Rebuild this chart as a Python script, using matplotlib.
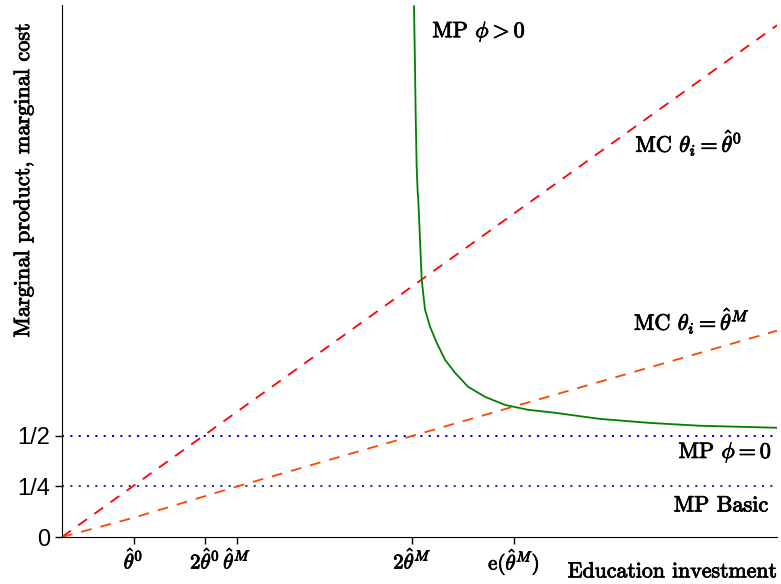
import matplotlib
matplotlib.use("Agg")
import matplotlib.pyplot as plt
import matplotlib.patheffects as pe
import numpy as np

plt.rcParams['mathtext.fontset'] = 'cm'
plt.rcParams['font.family'] = 'cmr10'
plt.rcParams['axes.formatter.use_mathtext'] = True

# axis reference points (in units of theta_hat^0)
x_ticks = [1.0, 2.0, 2.45, 4.9, 6.32]
x_ticklabels = [r'$\hat{\theta}^0$', r'$2\hat{\theta}^0$', r'$\hat{\theta}^M$',
                r'$2\hat{\theta}^M$', r'e($\hat{\theta}^M$)']
y_ticks = [0.0, 0.25, 0.5]
y_ticklabels = ['0', '1/4', '1/2']

# marginal cost, theta_i = theta_hat^0
mc0_x = [0.0, 10.0]
mc0_y = [0.0, 2.53]

# marginal cost, theta_i = theta_hat^M
mcM_x = [0.0, 1.0, 2.45, 4.9, 6.32, 10.0]
mcM_y = [0.0, 0.095, 0.25, 0.5, 0.645, 1.02]

# marginal product, phi > 0
mp_x = [4.923, 4.937, 4.947, 4.960, 4.975, 4.983, 5.007, 5.031, 5.077, 5.147,
        5.241, 5.357, 5.497, 5.678, 5.916, 6.196, 6.517, 6.895, 7.52, 8.22,
        8.92, 10.0]
mp_y = [2.624, 2.327, 2.079, 1.832, 1.700, 1.668, 1.470, 1.272, 1.124, 1.040,
        0.960, 0.876, 0.812, 0.743, 0.693, 0.653, 0.629, 0.614, 0.584, 0.564,
        0.550, 0.540]

# flat marginal products
mp_phi0 = 0.5
mp_basic = 0.25

fig = plt.figure(figsize=(7.81, 5.84), dpi=100)
ax = fig.add_axes([62 / 781, 47 / 584, 715 / 781, 532 / 584])

ax.axhline(mp_phi0, color='blue', linestyle=(0, (1, 3)), linewidth=1.5)
ax.axhline(mp_basic, color='#2b3990', linestyle=(0, (1, 3)), linewidth=1.5)
ax.plot(mc0_x, mc0_y, color='red', linestyle=(0, (6, 5)), linewidth=1.3)
ax.plot(mcM_x, mcM_y, color='orangered', linestyle=(0, (6, 5)), linewidth=1.3)
ax.plot(mp_x, mp_y, color='green', linewidth=1.3)

ax.set_xlim(0, 10)
ax.set_ylim(0, 2.63)
ax.spines['top'].set_visible(False)
ax.spines['right'].set_visible(False)

bold = [pe.withStroke(linewidth=0.6, foreground='black')]

ax.set_xticks(x_ticks)
ax.set_xticklabels(x_ticklabels, fontsize=15, path_effects=bold)
ax.set_yticks(y_ticks)
ax.set_yticklabels(y_ticklabels, fontsize=17, family='Liberation Sans')
ax.tick_params(length=5, width=1)

ax.text(5.18, 2.5, r'MP $\phi > 0$', fontsize=16, va='center', path_effects=bold)
ax.text(8.02, 1.95, r'MC $\theta_i = \hat{\theta}^0$', fontsize=16, va='center', path_effects=bold)
ax.text(8.0, 1.07, r'MC $\theta_i = \hat{\theta}^M$', fontsize=16, va='center', path_effects=bold)
ax.text(9.93, 0.42, r'MP $\phi = 0$', fontsize=16, va='center', ha='right', path_effects=bold)
ax.text(9.88, 0.155, 'MP Basic', fontsize=16, va='center', ha='right', path_effects=bold)
ax.text(1.0, -0.065, 'Education investment', fontsize=15.7, va='center', ha='right',
        transform=ax.transAxes, path_effects=bold)

ax.set_ylabel('Marginal product, marginal cost', fontsize=16, path_effects=bold)
ax.yaxis.set_label_coords(-0.04, 0.67)

fig.savefig('out.png', dpi=100)
